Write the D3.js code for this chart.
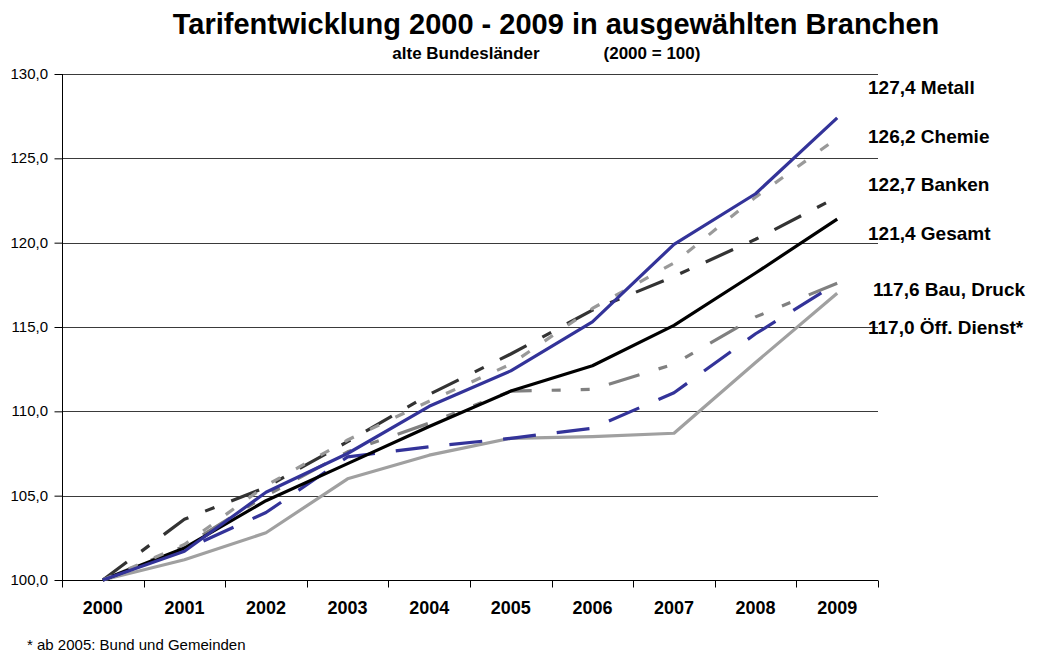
<!DOCTYPE html>
<html><head><meta charset="utf-8">
<script src="https://cdn.jsdelivr.net/npm/d3@7/dist/d3.min.js"></script>
<style>
body{margin:0;background:#fff;}
svg{display:block;font-family:"Liberation Sans",Arial,sans-serif;}
</style></head>
<body><svg id="chart" width="1045" height="655"></svg>
<script>
const years = ["2000","2001","2002","2003","2004","2005","2006","2007","2008","2009"];
const yTicks = [100,105,110,115,120,125,130];
const metall  = [100,101.7,105.2,107.5,110.3,112.4,115.3,119.9,122.9,127.4];
const chemie  = [100,102.1,105.6,108.3,110.6,112.8,116.1,118.8,122.7,126.2];
const banken  = [100,103.6,105.5,108.2,111.0,113.4,116.0,118.0,120.2,122.7];
const gesamt  = [100,101.9,104.7,106.9,109.1,111.2,112.7,115.1,118.2,121.4];
const bau     = [100,102.0,105.0,107.6,109.3,111.2,111.3,112.8,115.6,117.6];
const druck   = [100,101.8,104.0,107.3,107.9,108.4,109.0,111.1,114.6,117.6];
const oeff    = [100,101.2,102.8,106.0,107.4,108.4,108.5,108.7,112.9,117.0];
const endLabels = ["127,4 Metall","126,2 Chemie","122,7 Banken","121,4 Gesamt","117,6 Bau, Druck","117,0 Öff. Dienst*"];
const title = "Tarifentwicklung 2000 - 2009 in ausgewählten Branchen";
const subtitleA = "alte Bundesländer";
const subtitleB = "(2000 = 100)";
const footnote = "* ab 2005: Bund und Gemeinden";

const svg = d3.select("#chart");
const L = 62, R = 878, T = 74, B = 580;
const x = d3.scaleBand().domain(years).range([L, R]);
const y = d3.scaleLinear().domain([100,130]).range([B, T]);
const cx = d => x(d) + x.bandwidth()/2;

function stext(g, tx, ty, txt, size, weight, anchor){
  return g.append("text")
    .attr("x", tx).attr("y", ty)
    .attr("text-anchor", anchor || "start")
    .attr("font-size", size).attr("font-weight", weight || "normal")
    .attr("fill", "#000").text(txt);
}

// gridlines
svg.append("g").selectAll("line").data(yTicks.filter(v=>v>100)).join("line")
  .attr("x1", L).attr("x2", R)
  .attr("y1", d=>Math.round(y(d))+0.5).attr("y2", d=>Math.round(y(d))+0.5)
  .attr("stroke", "#3a3a3a").attr("stroke-width", 1);

// y axis
const yAxis = d3.axisLeft(y).tickValues(yTicks).tickSize(8).tickFormat("");
const gy = svg.append("g").attr("transform", `translate(${L+0.5},0)`).call(yAxis);
gy.select(".domain").attr("stroke", "#000").attr("d", `M0,${T}V${B}`);
gy.selectAll(".tick line").attr("stroke", "#000");
const fmt = d => d3.format(".1f")(d).replace(".", ",");
const ylab = svg.append("g");
yTicks.forEach(v => stext(ylab, 48, y(v)+5, fmt(v), 15, "normal", "end"));

// x axis
const gx = svg.append("g").attr("transform", `translate(0,${B+0.5})`);
gx.append("line").attr("x1", L).attr("x2", R).attr("stroke", "#000");
const edges = years.map(d => x(d)).concat([R]);
gx.selectAll("line.tk").data(edges).join("line").attr("class","tk")
  .attr("x1", d=>Math.round(d)+0.5).attr("x2", d=>Math.round(d)+0.5)
  .attr("y1", 0).attr("y2", 7).attr("stroke", "#000");
const xlab = svg.append("g");
years.forEach(d => stext(xlab, cx(d), B+34, d, 18, "bold", "middle"));

// series
const series = [
  {v: oeff,   color:"#a0a0a0", dash:null},
  {v: bau,    color:"#808080", dash:"32,20,9,20,9,20"},
  {v: druck,  color:"#333399", dash:"33,21"},
  {v: gesamt, color:"#000000", dash:null},
  {v: banken, color:"#333333", dash:"30,18,10,18"},
  {v: chemie, color:"#999999", dash:"10,18"},
  {v: metall, color:"#333399", dash:null}
];
const line = d3.line().x((d,i)=>cx(years[i])).y(d=>y(d));
svg.append("g").selectAll("path").data(series).join("path")
  .attr("d", s=>line(s.v)).attr("fill","none")
  .attr("stroke", s=>s.color).attr("stroke-width", 3.2)
  .attr("stroke-dasharray", s=>s.dash)
  .attr("stroke-linejoin","round");

// end labels
const labelY = [87, 136, 184, 233, 289, 327];
const labelX = [868, 868, 868, 868, 873, 868];
const lab = svg.append("g");
endLabels.forEach((t,i) => stext(lab, labelX[i], labelY[i]+7, t, 19, "bold"));

// titles
stext(svg, 556, 34, title, 29, "bold", "middle");
stext(svg, 466, 59, subtitleA, 17, "bold", "middle");
stext(svg, 652, 59, subtitleB, 17, "bold", "middle");
stext(svg, 27, 650, footnote, 15);
</script></body></html>
